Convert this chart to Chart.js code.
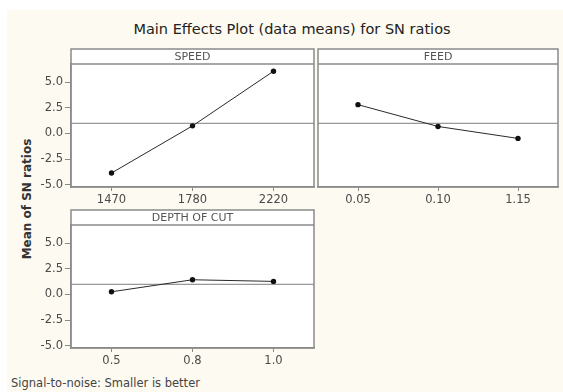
<!DOCTYPE html>
<html>
<head>
<meta charset="utf-8">
<script src="https://cdn.jsdelivr.net/npm/chart.js@4/dist/chart.umd.min.js"></script>
<style>
  html, body { margin: 0; padding: 0; background: #ffffff; }
  #page { position: relative; width: 563px; height: 392px; overflow: hidden; background: #ffffff; }
  #cream { position: absolute; left: 7px; top: 10px; right: 0; bottom: 0; background: #fdfaf1; }
  .panel { position: absolute; }
  #title {
    position: absolute; left: 92px; width: 400px; top: 21px; text-align: center;
    font: 14.5px "DejaVu Sans", sans-serif; color: #222; white-space: nowrap;
  }
  #ylabel {
    position: absolute; left: 27px; top: 199px; transform: translate(-50%, -50%) rotate(-90deg);
    font: bold 12px "DejaVu Sans", sans-serif; color: #333; white-space: nowrap;
  }
  #footer {
    position: absolute; left: 11px; top: 376px;
    font: 11.5px "DejaVu Sans", sans-serif; color: #444; white-space: nowrap;
  }
</style>
</head>
<body>
<div id="page">
  <div id="cream"></div>
  <div id="title">Main Effects Plot (data means) for SN ratios</div>
  <div id="ylabel">Mean of SN ratios</div>
  <div id="footer">Signal-to-noise: Smaller is better</div>
</div>
<script>
/* ---------- data ---------- */
const yTicks = [-5, -2.5, 0, 2.5, 5];
const yMin = -5.2;
const yMax = 6.75;
const overallMean = 0.99;

const speedLevels = ['1470', '1780', '2220'];
const speedMeans = [-3.84, 0.74, 6.05];

const feedLevels = ['0.05', '0.10', '1.15'];
const feedMeans = [2.80, 0.68, -0.48];

const depthLevels = ['0.5', '0.8', '1.0'];
const depthMeans = [0.26, 1.43, 1.27];

/* ---------- layout ---------- */
const HEADER_H = 15;
const Y_AXIS_W = 55;
const X_AXIS_H = 29;
const FRAME = '#8a8a8a';
const TICK_FONT = { family: 'DejaVu Sans', size: 11.5 };

const panels = [
  { title: 'SPEED', labels: speedLevels, values: speedMeans, box: { l: 71, t: 63.5, r: 315, b: 187 }, yAxis: true },
  { title: 'FEED', labels: feedLevels, values: feedMeans, box: { l: 315, t: 63.5, r: 559, b: 187 }, yAxis: false },
  { title: 'DEPTH OF CUT', labels: depthLevels, values: depthMeans, box: { l: 71, t: 224.5, r: 315, b: 347.5 }, yAxis: true }
];

// header strip, frame and grand-mean line
const panelFrame = {
  id: 'panelFrame',
  beforeDraw(chart) {
    const { ctx, chartArea: a } = chart;
    ctx.save();
    ctx.fillStyle = '#ffffff';
    ctx.fillRect(a.left, a.top - HEADER_H, a.right - a.left, a.bottom - a.top + HEADER_H);
    ctx.restore();
  },
  beforeDatasetsDraw(chart) {
    const { ctx, chartArea: a, scales } = chart;
    const ym = scales.y.getPixelForValue(overallMean);
    ctx.save();
    ctx.strokeStyle = '#7d7d7d';
    ctx.lineWidth = 1;
    ctx.beginPath();
    ctx.moveTo(a.left, ym);
    ctx.lineTo(a.right, ym);
    ctx.stroke();
    ctx.restore();
  },
  afterDraw(chart, args, opts) {
    const { ctx, chartArea: a } = chart;
    const top = a.top - HEADER_H;
    ctx.save();
    ctx.strokeStyle = FRAME;
    ctx.lineWidth = 1.5;
    ctx.strokeRect(a.left, top, a.right - a.left, a.bottom - top);
    ctx.beginPath();
    ctx.moveTo(a.left, a.top);
    ctx.lineTo(a.right, a.top);
    ctx.stroke();
    ctx.font = '11px "DejaVu Sans"';
    ctx.fillStyle = '#555';
    ctx.textAlign = 'center';
    ctx.textBaseline = 'middle';
    ctx.fillText(opts.title, (a.left + a.right) / 2, top + HEADER_H / 2 + 0.5);
    ctx.restore();
  }
};

const page = document.getElementById('page');

panels.forEach(p => {
  const left = p.yAxis ? p.box.l - Y_AXIS_W : p.box.l - 1;
  const top = p.box.t - HEADER_H - 9;
  const width = p.box.r + 3 - left;
  const height = p.box.b + X_AXIS_H - top;

  const div = document.createElement('div');
  div.className = 'panel';
  div.style.left = left + 'px';
  div.style.top = top + 'px';
  div.style.width = width + 'px';
  div.style.height = height + 'px';
  const canvas = document.createElement('canvas');
  canvas.width = width;
  canvas.height = height;
  div.appendChild(canvas);
  page.appendChild(div);

  new Chart(canvas, {
    type: 'line',
    data: {
      labels: p.labels,
      datasets: [{
        data: p.values,
        borderColor: '#2a2a2a',
        borderWidth: 1,
        pointRadius: 2.7,
        pointBackgroundColor: '#111',
        pointBorderWidth: 0,
        tension: 0
      }]
    },
    options: {
      responsive: false,
      animation: false,
      layout: {
        padding: { left: p.yAxis ? 0 : 1, right: 3, top: p.box.t - top, bottom: 0 }
      },
      plugins: {
        legend: { display: false },
        tooltip: { enabled: false },
        panelFrame: { title: p.title }
      },
      scales: {
        x: {
          type: 'category',
          offset: true,
          grid: { display: true, drawOnChartArea: false, drawTicks: true, tickLength: 4, color: FRAME },
          border: { display: true, color: FRAME, width: 1.5 },
          ticks: { font: TICK_FONT, color: '#4a4a4a', padding: 2, maxRotation: 0 },
          afterFit(scale) { scale.height = X_AXIS_H; }
        },
        y: {
          display: p.yAxis,
          min: yMin,
          max: yMax,
          grid: { display: true, drawOnChartArea: false, drawTicks: true, tickLength: 6, color: FRAME },
          border: { display: true, color: FRAME, width: 1.5 },
          ticks: {
            font: TICK_FONT,
            color: '#4a4a4a',
            padding: 2,
            callback: v => v.toFixed(1)
          },
          afterBuildTicks(scale) { scale.ticks = yTicks.map(v => ({ value: v })); },
          afterFit(scale) { scale.width = p.yAxis ? Y_AXIS_W : 0; }
        }
      }
    },
    plugins: [panelFrame]
  });
});
</script>
</body>
</html>
